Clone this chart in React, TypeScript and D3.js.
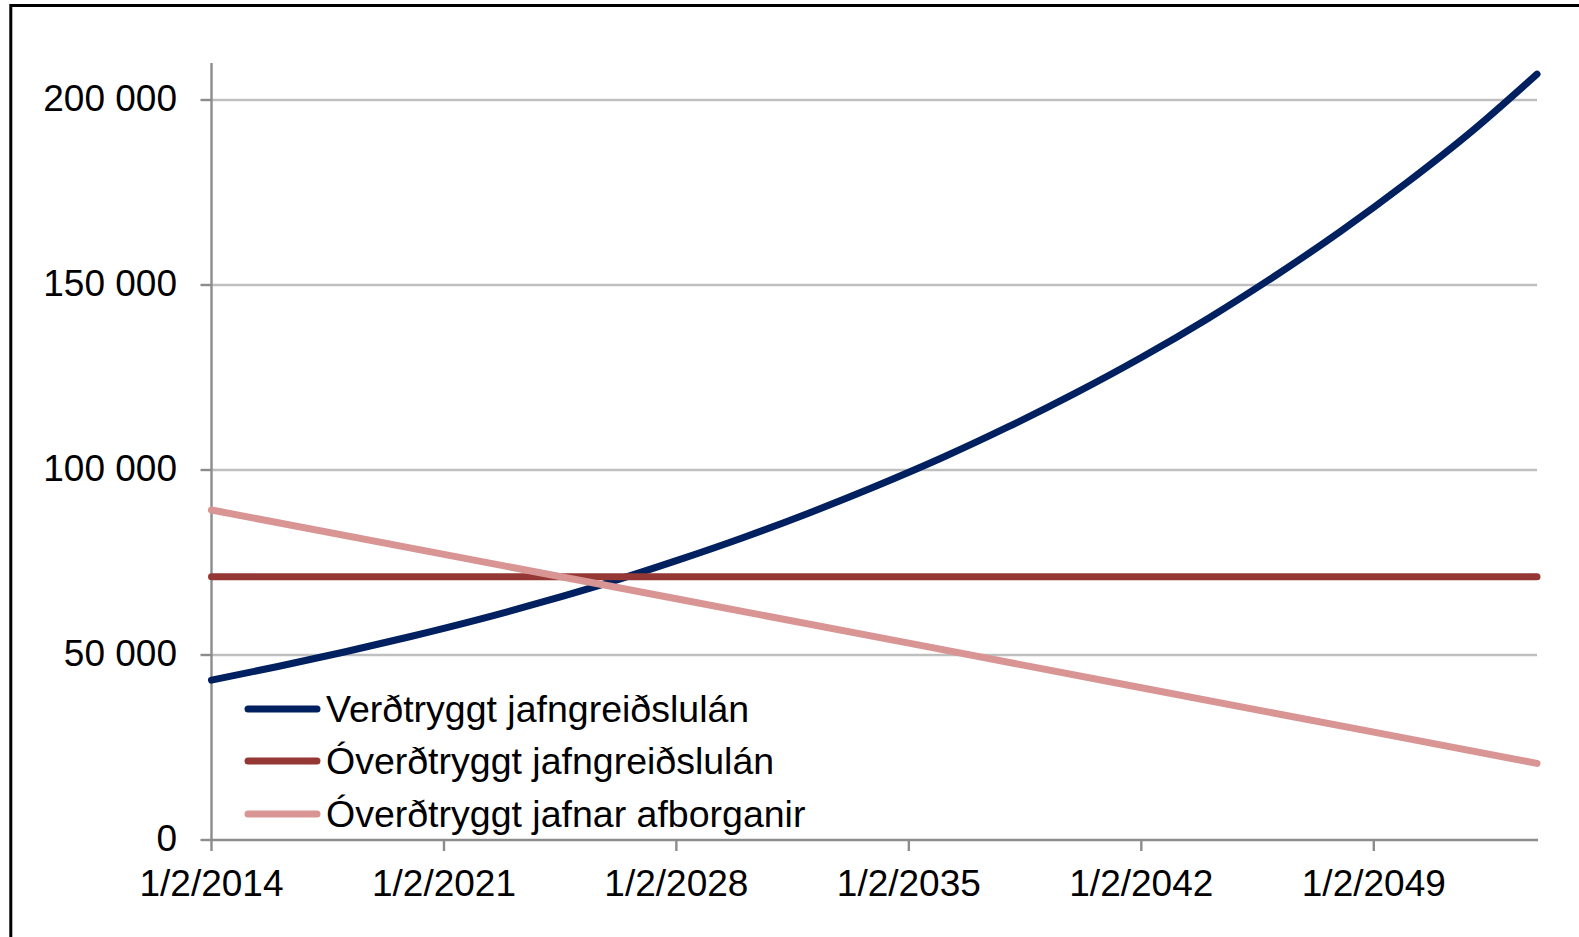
import * as d3 from "d3";

// payment per month (ISK)
const navyDates = [
  "2014-02-01", "2016-02-01", "2018-02-01", "2020-02-01", "2022-02-01",
  "2024-02-01", "2026-02-01", "2028-02-01", "2030-02-01", "2032-02-01",
  "2034-02-01", "2036-02-01", "2038-02-01", "2040-02-01", "2042-02-01",
  "2044-02-01", "2046-02-01", "2048-02-01", "2050-02-01", "2052-02-01",
  "2054-01-01",
];
const navyValues = [
  43200, 46900, 50800, 55000, 59500, 64400, 69700, 75500, 81700, 88400,
  95600, 103300, 111700, 120700, 130400, 140900, 152300, 164500, 177700,
  191900, 207000,
];

const flatDates = [
  "2014-02-01", "2021-02-01", "2028-02-01", "2035-02-01",
  "2042-02-01", "2049-02-01", "2054-01-01",
];
const redValues = [71150, 71150, 71150, 71150, 71150, 71150, 71150];
const pinkValues = [89200, 77200, 65200, 53200, 41150, 29150, 20700];

const seriesNames = [
  "Verðtryggt jafngreiðslulán",
  "Óverðtryggt jafngreiðslulán",
  "Óverðtryggt jafnar afborganir",
];
const seriesColors = ["#002060", "#953735", "#d99594"];

const xTickDates = [
  "2014-02-01", "2021-02-01", "2028-02-01", "2035-02-01",
  "2042-02-01", "2049-02-01",
];
const yTicks = [0, 50000, 100000, 150000, 200000];

const W = 1579,
  H = 937;
const left = 211.5,
  right = 1537,
  top = 63,
  bottom = 840;

const font = "'Liberation Sans', Arial, sans-serif";

export default function App() {
  const x = d3
    .scaleUtc()
    .domain([new Date("2014-02-01"), new Date("2054-01-01")])
    .range([left, right]);
  const y = d3.scaleLinear().domain([0, 210000]).range([bottom, top]);

  const fmtY = d3.formatLocale({
    decimal: ",",
    thousands: " ",
    grouping: [3],
    currency: ["", ""],
  }).format(",");
  const fmtX = d3.utcFormat("%-d/%-m/%Y");

  const toPts = (dates: string[], vals: number[]) =>
    dates.map((d, i) => ({ d: new Date(d), v: vals[i] }));

  const series = [
    toPts(navyDates, navyValues),
    toPts(flatDates, redValues),
    toPts(flatDates, pinkValues),
  ];
  const curves = [d3.curveMonotoneX, d3.curveLinear, d3.curveLinear];

  const legendY = [709, 761, 814];

  return (
    <svg
      width={W}
      height={H}
      style={{ position: "absolute", left: 0, top: 0, background: "#fff" }}
      fontFamily={font}
    >
      <rect x={10.8} y={5.5} width={W + 20} height={H + 20} fill="#fff" stroke="#000" strokeWidth={3} />

      {/* gridlines */}
      {yTicks.slice(1).map((t) => (
        <line key={t} x1={left} x2={right} y1={y(t)} y2={y(t)} stroke="#bfbfbf" strokeWidth={2.4} />
      ))}

      {/* y axis */}
      <line x1={left} x2={left} y1={top} y2={bottom} stroke="#8c8c8c" strokeWidth={2.4} />
      {yTicks.map((t) => (
        <g key={t}>
          <line x1={left - 11} x2={left} y1={y(t)} y2={y(t)} stroke="#8c8c8c" strokeWidth={2.4} />
          <text x={177} y={y(t) + 11} textAnchor="end" fontSize={37} fill="#000">
            {fmtY(t)}
          </text>
        </g>
      ))}

      {/* x axis */}
      <line x1={left} x2={right + 1} y1={bottom} y2={bottom} stroke="#8c8c8c" strokeWidth={2.4} />
      {xTickDates.map((s) => {
        const xx = x(new Date(s));
        return (
          <g key={s}>
            <line x1={xx} x2={xx} y1={bottom} y2={bottom + 11} stroke="#8c8c8c" strokeWidth={2.4} />
            <text x={xx} y={896} textAnchor="middle" fontSize={37} fill="#000">
              {fmtX(new Date(s))}
            </text>
          </g>
        );
      })}

      {/* series */}
      {series.map((pts, i) => {
        const gen = d3
          .line<{ d: Date; v: number }>()
          .x((p) => x(p.d))
          .y((p) => y(p.v))
          .curve(curves[i]);
        return (
          <path
            key={i}
            d={gen(pts) || ""}
            fill="none"
            stroke={seriesColors[i]}
            strokeWidth={7}
            strokeLinecap="round"
            strokeLinejoin="round"
          />
        );
      })}

      {/* legend */}
      {seriesNames.map((n, i) => (
        <g key={n}>
          <line
            x1={248}
            x2={317}
            y1={legendY[i]}
            y2={legendY[i]}
            stroke={seriesColors[i]}
            strokeWidth={7}
            strokeLinecap="round"
          />
          <text x={326} y={legendY[i] + 13} fontSize={37.5} fill="#000">
            {n}
          </text>
        </g>
      ))}
    </svg>
  );
}
